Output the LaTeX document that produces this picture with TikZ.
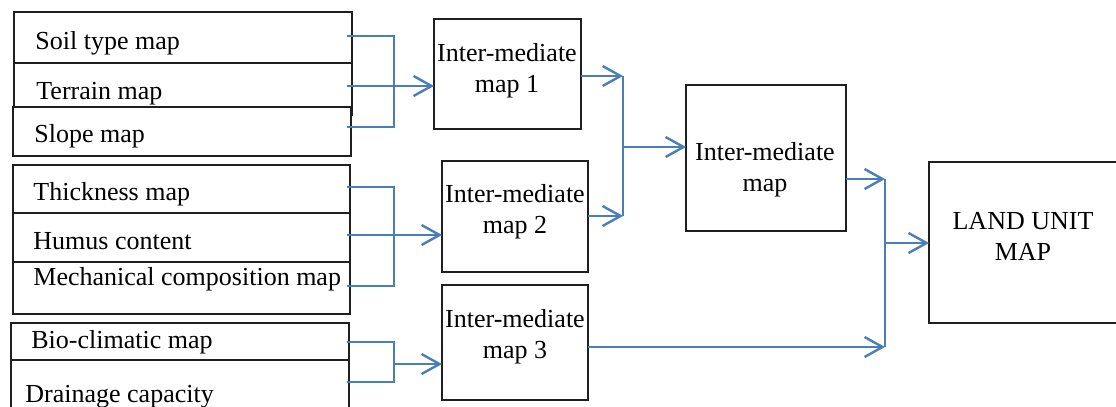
\documentclass[tikz,border=0pt]{standalone}
\usepackage{fontspec}
\setmainfont{Liberation Serif}
\usepackage{tikz}
\usetikzlibrary{arrows.meta, calc}
\definecolor{flow}{RGB}{74, 126, 187}
\definecolor{boxline}{gray}{0.12}

\begin{document}
\begin{tikzpicture}[x=0.5pt, y=-0.5pt, font=\fontsize{13}{15.5}\selectfont,
  mapbox/.style={draw=boxline, fill=white, line width=0.75pt, inner sep=0pt, outer sep=0pt},
  inbox/.style={mapbox, minimum width=169pt},
  maptext/.style={anchor=base west, inner sep=0pt},
  midtext/.style={align=center, inner sep=0pt},
  link/.style={draw=flow, line width=1.2pt},
  arr/.style={-{Straight Barb[length=9pt, width=10pt]}}]
  \useasboundingbox (0, 0) rectangle (1116, 407);
  \clip (0, 0) rectangle (1116, 407);

  % Input maps 1
  \node [inbox, minimum height=25.5pt] (soil) at (183, 37.5) {};
  \node [inbox, minimum height=26pt] (terrain) at (183, 89) {};
  \node [inbox, minimum height=24.5pt] (slope) at (182, 131.5) {};
  \node [maptext] (soil-t) at (35, 49) {Soil type map};
  \node [maptext] (terrain-t) at (36, 99) {Terrain map};
  \node [maptext] (slope-t) at (34, 142) {Slope map};

  % Input maps 2
  \node [inbox, minimum width=168.5pt, minimum height=24pt] (thick) at (181.5, 189) {};
  \node [inbox, minimum width=168.5pt, minimum height=24.5pt] (humus) at (181.5, 237.5) {};
  \node [inbox, minimum width=168.5pt, minimum height=26pt] (mech) at (181.5, 288) {};
  \node [maptext] (thick-t) at (33, 200) {Thickness map};
  \node [maptext] (humus-t) at (33, 249) {Humus content};
  \node [maptext] (mech-t) at (33, 285) {Mechanical composition map};

  % Input maps 3
  \node [inbox, minimum height=18.5pt] (bio) at (180, 341.5) {};
  \node [inbox, minimum height=30pt] (drain) at (180, 390) {};
  \node [maptext] (bio-t) at (31, 348) {Bio-climatic map};
  \node [maptext] (drain-t) at (25, 402) {Drainage capacity};

  % Intermediate maps
  \node [mapbox, minimum width=73.5pt, minimum height=55pt] (im1) at (507.5, 74) {};
  \node [midtext] (im1-t) at (507, 71) {Inter-mediate\\map 1};
  \node [mapbox, minimum width=73pt, minimum height=55.5pt] (im2) at (515, 216.5) {};
  \node [midtext] (im2-t) at (515, 211.5) {Inter-mediate\\map 2};
  \node [mapbox, minimum width=73pt, minimum height=57.5pt] (im3) at (515, 342.5) {};
  \node [midtext] (im3-t) at (515, 336.5) {Inter-mediate\\map 3};
  \node [mapbox, minimum width=80pt, minimum height=73pt] (imall) at (766, 158) {};
  \node [midtext] (imall-t) at (765, 169.5) {Inter-mediate\\map};

  % Result
  \node [mapbox, minimum width=94.5pt, minimum height=80.5pt] (land) at (1023.5, 242.5) {};
  \node [midtext] (land-t) at (1023, 236) {LAND UNIT\\MAP};

  % Joins on the left
  \coordinate (j1) at (394, 86);
  \draw [link] ($(soil.east)+(-5, -1.5)$) -| (j1);
  \draw [link] ($(slope.east)+(-4, -4.5)$) -| (j1);
  \draw [link, arr] ($(terrain.east)+(-5, -3)$) -- (im1.west |- j1);

  \coordinate (j2) at (394, 235);
  \draw [link] ($(thick.east)+(-3, -2)$) -| (j2);
  \draw [link] ($(mech.east)+(-3, -2)$) -| (j2);
  \draw [link, arr] ($(humus.east)+(-3, -2.5)$) -- (im2.west |- j2);

  \coordinate (j3) at (394, 364);
  \draw [link] ($(bio.east)+(-2, 0.5)$) -| (j3);
  \draw [link] ($(drain.east)+(-2, -8)$) -| (j3);
  \draw [link, arr] (j3) -- (im3.west |- j3);

  % Joins on the right
  \coordinate (k1top) at (623, 76);
  \coordinate (k1) at (623, 147);
  \coordinate (k1bot) at (623, 216);
  \draw [link, arr] (im1.east |- k1top) -- (k1top);
  \draw [link, arr] (im2.east |- k1bot) -- (k1bot);
  \draw [link] (k1top) -- (k1bot);
  \draw [link, arr] (k1) -- (imall.west |- k1);

  \coordinate (k2top) at (885, 179);
  \coordinate (k2) at (885, 243);
  \coordinate (k2bot) at (885, 347);
  \draw [link, arr] (imall.east |- k2top) -- (k2top);
  \draw [link, arr] (im3.east |- k2bot) -- (k2bot);
  \draw [link] (k2top) -- (k2bot);
  \draw [link, arr] (k2) -- (land.west |- k2);

\end{tikzpicture}
\end{document}
